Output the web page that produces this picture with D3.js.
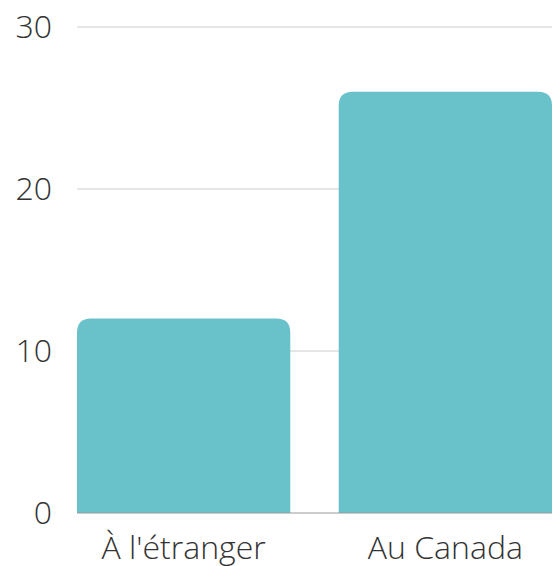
<!DOCTYPE html>
<html>
<head>
<meta charset="utf-8">
<script src="https://cdn.jsdelivr.net/npm/d3@7"></script>
<style>
  body { margin: 0; background: #fff; }
  text { font-family: "Open Sans", sans-serif; font-weight: 300; fill: #333; }
</style>
</head>
<body>
<svg id="chart" width="560" height="566"></svg>
<script>
"use strict";
const categories = ["À l'étranger", "Au Canada"];
const values = [12, 26];
const yTicks = [0, 10, 20, 30];

const margin = { top: 27, right: 8, bottom: 53, left: 77 };
const svg = d3.select("#chart");
const width = +svg.attr("width") - margin.left - margin.right;
const height = +svg.attr("height") - margin.top - margin.bottom;

const x = d3.scaleBand().domain(categories).range([0, width])
    .paddingInner(0.185).paddingOuter(0);
const y = d3.scaleLinear().domain([0, 30]).range([height, 0]);

const g = svg.append("g").attr("transform", `translate(${margin.left},${margin.top})`);

// gridlines
g.append("g").selectAll("line")
    .data(yTicks.filter(d => d > 0))
    .enter().append("line")
    .attr("x1", 0).attr("x2", width)
    .attr("y1", d => y(d)).attr("y2", d => y(d))
    .style("stroke", "#cccccc").style("stroke-width", 1);

// bars with rounded top corners
function barPath(d, i) {
  const x0 = x(categories[i]), w = x.bandwidth();
  const y0 = y(0), y1 = y(d);
  const r = Math.min(14, (y0 - y1) / 2);
  return `M${x0},${y0}V${y1 + r}Q${x0},${y1} ${x0 + r},${y1}` +
         `H${x0 + w - r}Q${x0 + w},${y1} ${x0 + w},${y1 + r}V${y0}Z`;
}
g.append("g").selectAll("path")
    .data(values)
    .enter().append("path")
    .attr("d", barPath)
    .style("fill", "#69c1c9");

// baseline
g.append("line")
    .attr("x1", 0).attr("x2", width)
    .attr("y1", y(0)).attr("y2", y(0))
    .style("stroke", "#999999").style("stroke-width", 1);

// y tick labels
g.append("g").selectAll("text")
    .data(yTicks)
    .enter().append("text")
    .attr("x", -25).attr("y", d => y(d))
    .attr("dy", "0.35em")
    .attr("text-anchor", "end")
    .style("font-size", "32px")
    .text(d => d);

// x labels
g.append("g").selectAll("text")
    .data(categories)
    .enter().append("text")
    .attr("x", d => x(d) + x.bandwidth() / 2)
    .attr("y", height + 46)
    .attr("text-anchor", "middle")
    .style("font-size", "32px")
    .text(d => d);
</script>
</body>
</html>
